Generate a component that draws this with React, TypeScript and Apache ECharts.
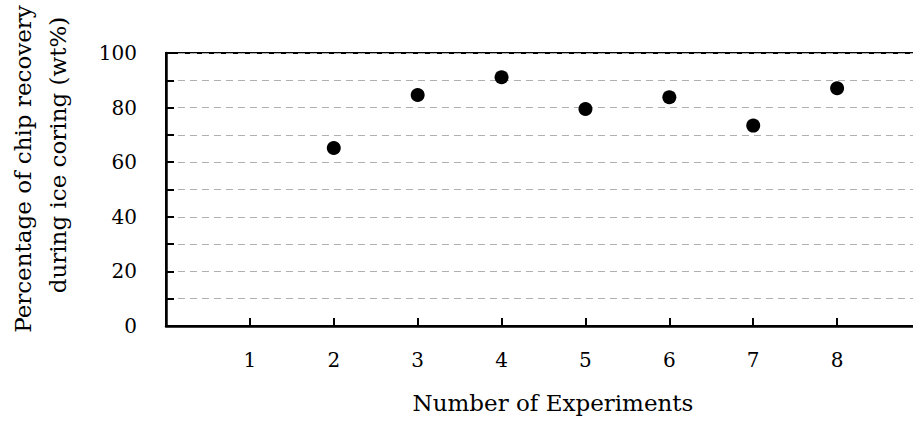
import React, { useEffect, useRef } from "react";
import * as echarts from "echarts";

const experiments = [2, 3, 4, 5, 6, 7, 8];
const recovery = [65.2, 84.6, 91.1, 79.5, 83.8, 73.4, 87.1];
const xTickLabels = ["1", "2", "3", "4", "5", "6", "7", "8"];
const yTickLabels = ["0", "20", "40", "60", "80", "100"];

const FONT = "DejaVu Serif";

export default function App() {
  const ref = useRef<HTMLDivElement>(null);
  useEffect(() => {
    if (!ref.current) return;
    const chart = echarts.init(ref.current, null, { renderer: "svg" });
    chart.setOption({
      animation: false,
      backgroundColor: "#fff",
      grid: {
        left: 166,
        top: 53,
        width: 755,
        height: 273,
        outerBoundsMode: "none",
        containLabel: false,
        show: true,
        borderColor: "#000",
        borderWidth: 2,
      },
      xAxis: {
        type: "value",
        min: 0,
        max: 9,
        interval: 1,
        axisLine: { show: true, lineStyle: { color: "#000", width: 2.5 } },
        axisTick: { show: true, inside: true, length: 8, lineStyle: { color: "#000", width: 2 } },
        splitLine: { show: false },
        axisLabel: {
          margin: 24,
          color: "#000",
          fontFamily: FONT,
          fontSize: 20,
          formatter: (v: number) => (xTickLabels.includes(String(v)) ? String(v) : ""),
        },
      },
      yAxis: {
        type: "value",
        min: 0,
        max: 100,
        interval: 10,
        axisLine: { show: true, lineStyle: { color: "#000", width: 2.5 } },
        axisTick: { show: true, inside: true, length: 8, lineStyle: { color: "#000", width: 2 } },
        splitLine: { show: true, lineStyle: { color: "#b0b0b0", width: 1, type: [7, 5] } },
        axisLabel: {
          margin: 29,
          color: "#000",
          fontFamily: FONT,
          fontSize: 20,
          formatter: (v: number) => (yTickLabels.includes(String(v)) ? String(v) : ""),
        },
      },
      graphic: [
        {
          type: "text",
          x: 23,
          y: 169,
          rotation: Math.PI / 2,
          style: {
            text: "Percentage of chip recovery",
            fontFamily: FONT,
            fontSize: 23,
            fill: "#000",
            align: "center",
            verticalAlign: "middle",
          },
        },
        {
          type: "text",
          x: 58,
          y: 155,
          rotation: Math.PI / 2,
          style: {
            text: "during ice coring (wt%)",
            fontFamily: FONT,
            fontSize: 23,
            fill: "#000",
            align: "center",
            verticalAlign: "middle",
          },
        },
        {
          type: "text",
          x: 553,
          y: 403,
          style: {
            text: "Number of Experiments",
            fontFamily: FONT,
            fontSize: 23,
            fill: "#000",
            align: "center",
            verticalAlign: "middle",
          },
        },
      ],
      series: [
        {
          type: "scatter",
          symbol: "circle",
          symbolSize: 14,
          itemStyle: { color: "#000", opacity: 1 },
          data: experiments.map((x, i) => [x, recovery[i]]),
        },
      ],
    });
    return () => chart.dispose();
  }, []);
  return (
    <div
      ref={ref}
      style={{ position: "absolute", left: 0, top: 0, width: 913, height: 421 }}
    />
  );
}
